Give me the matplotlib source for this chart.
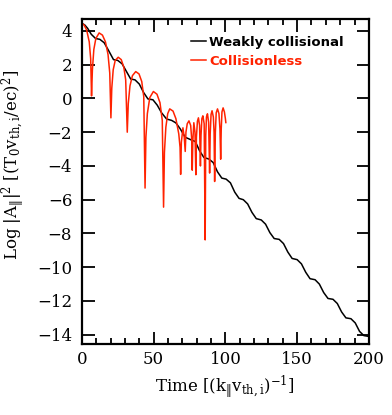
import matplotlib
matplotlib.use('Agg')
import matplotlib.pyplot as plt
from matplotlib.ticker import MultipleLocator

# Weakly collisional run (black)
coll_t = [0, 2, 4, 6.5, 9.5, 12.5, 15.5, 18.5, 22, 25, 28, 31, 34, 37, 40, 43, 46, 49.5,
          52.5, 55.5, 59, 62.5, 65.5, 68.5, 72, 76, 79, 82, 85, 88.5, 91.5, 94.5, 97.5,
          100.5, 103.5, 106.5, 109.5, 112.5, 115.5, 118.5, 121.5, 125, 128, 131, 134,
          137.5, 140.5, 143.5, 146.5, 150, 153, 156, 159, 162.5, 165.5, 168.5, 171.5,
          175, 178, 181, 184, 187.5, 190.5, 193.5, 196.5, 200]
coll_v = [4.45, 4.35, 4.15, 3.8, 3.55, 3.5, 3.3, 2.85, 2.3, 2.25, 2.05, 1.6, 1.15, 1.1,
          0.85, 0.35, -0.03, -0.08, -0.4, -0.85, -1.22, -1.3, -1.45, -1.8, -2.3, -2.45,
          -2.55, -3.1, -3.5, -3.59, -3.8, -4.35, -4.72, -4.78, -5.0, -5.55, -5.92, -6.0,
          -6.25, -6.75, -7.12, -7.2, -7.45, -7.95, -8.3, -8.35, -8.6, -9.1, -9.48, -9.55,
          -9.8, -10.3, -10.68, -10.74, -11.0, -11.5, -11.85, -11.9, -12.15, -12.65, -13.0,
          -13.05, -13.3, -13.8, -14.05, -14.1]

# Collisionless run (red)
free_t = [0, 1.5, 3.3, 5.1, 6.1, 6.7,
          7.3, 8.3, 9.7, 12.0, 14.3, 16.4, 18.2, 19.4, 20.2,
          20.8, 21.8, 23.2, 25.3, 27.4, 29.2, 30.5, 31.6,
          32.3, 33.5, 35.2, 37.5, 39.8, 41.7, 43.1, 44.0,
          44.6, 45.6, 47.3, 49.8, 52.3, 54.4, 56.0, 56.9,
          57.5, 58.5, 59.8, 61.2, 63.5, 65.5, 67.5, 68.4, 68.8,
          69.3, 70.4, 71.3, 72.0,
          72.5, 73.4, 74.6, 75.8, 76.5, 76.9,
          77.3, 78.0, 78.8, 79.4,
          79.8, 80.5, 81.2, 82.0, 82.6,
          83.0, 83.6, 84.3, 85.2, 85.9,
          86.3, 86.8, 87.5, 88.3, 89.0,
          89.4, 90.0, 90.7, 91.6, 92.1, 92.5,
          93.0, 93.6, 94.5, 95.5, 96.2, 96.7,
          97.1, 97.6, 98.4, 99.3, 100.0, 100.3]
free_v = [4.45, 4.35, 4.05, 3.35, 2.35, 0.15,
          1.7, 2.9, 3.55, 3.88, 3.75, 3.35, 2.6, 1.5, -1.15,
          0.6, 1.7, 2.25, 2.44, 2.3, 1.85, 1.1, -2.0,
          -0.3, 0.75, 1.35, 1.59, 1.45, 1.0, 0.1, -5.31,
          -2.3, -0.9, 0.05, 0.41, 0.25, -0.25, -1.3, -6.44,
          -3.2, -1.7, -0.9, -0.62, -0.75, -1.2, -2.1, -2.9, -4.5,
          -2.6, -1.74, -2.3, -3.14,
          -2.0, -1.5, -1.33, -1.6, -2.4, -4.25,
          -2.5, -1.44, -2.0, -4.52,
          -2.3, -1.35, -1.15, -1.6, -4.0,
          -2.2, -1.2, -1.03, -1.5, -8.38,
          -2.2, -1.1, -0.91, -1.4, -4.42,
          -2.1, -0.95, -0.73, -1.1, -2.0, -4.92,
          -2.0, -0.85, -0.62, -0.9, -1.8, -3.6,
          -1.8, -0.8, -0.56, -0.8, -1.2, -1.43]

plt.rcParams['mathtext.fontset'] = 'dejavuserif'
plt.rcParams['font.family'] = 'DejaVu Serif'

fig = plt.figure(figsize=(3.92, 4.15), dpi=100)
ax = fig.add_axes([0.209, 0.171, 0.732, 0.783])

ax.plot(coll_t, coll_v, color='black', lw=1.1, label='Weakly collisional')
ax.plot(free_t, free_v, color='#ff2200', lw=1.1, label='Collisionless')

ax.set_xlim(0, 200)
ax.set_ylim(-14.55, 4.7)
ax.xaxis.set_major_locator(MultipleLocator(50))
ax.xaxis.set_minor_locator(MultipleLocator(10))
ax.yaxis.set_major_locator(MultipleLocator(2))
ax.tick_params(which='both', direction='in', top=True, right=True, width=1.3,
               labelsize=12)
ax.tick_params(which='major', length=9, pad=7)
ax.tick_params(axis='x', which='major', pad=5)
ax.tick_params(which='minor', length=4.5)
for s in ax.spines.values():
    s.set_linewidth(1.6)

ax.set_xlabel(r'Time [$(\mathrm{k}_{\|}\mathrm{v}_{\rm th,i})^{-1}$]', fontsize=12)
ax.set_ylabel(r'Log $|\mathrm{A}_{\|}|^2$ [$(\mathrm{T}_0\mathrm{v}_{\rm th,i}/\mathrm{ec})^2$]',
              fontsize=12)
ax.xaxis.set_label_coords(0.5, -0.092)
ax.yaxis.set_label_coords(-0.19, 0.55)

leg = ax.legend(loc='upper right', bbox_to_anchor=(0.955, 0.985), frameon=False,
                handlelength=1.1, handletextpad=0.3, labelspacing=0.45,
                prop={'family': 'DejaVu Sans', 'weight': 'bold', 'size': 9.5},
                labelcolor='linecolor')

fig.savefig('out.png', dpi=100)
